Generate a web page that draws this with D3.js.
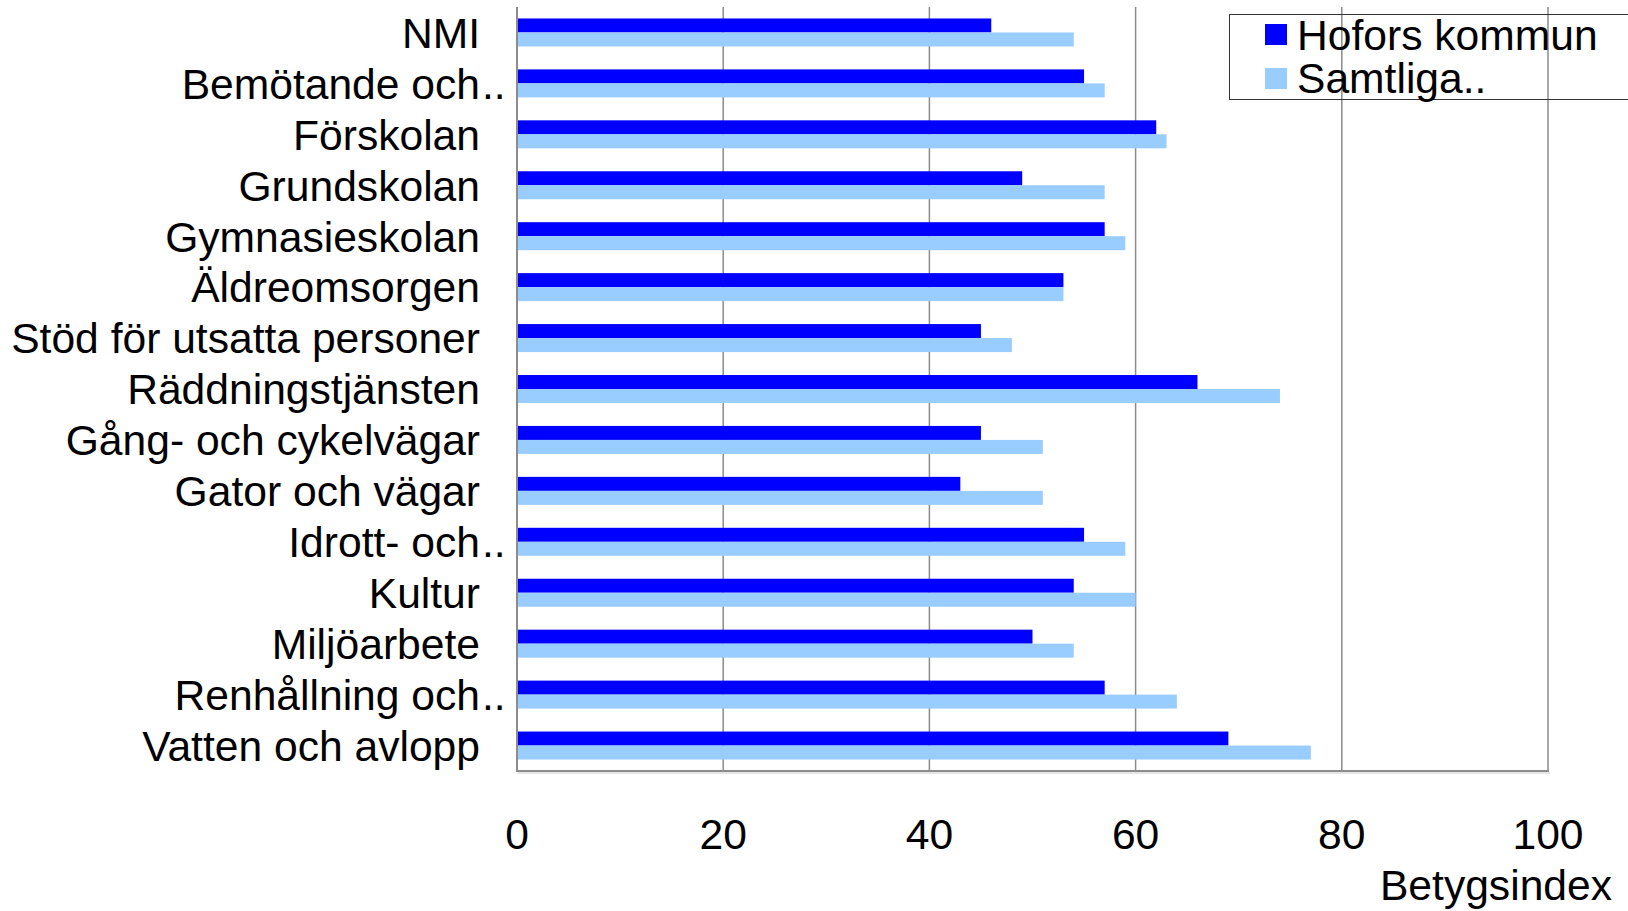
<!DOCTYPE html>
<html>
<head>
<meta charset="utf-8">
<script src="https://cdn.jsdelivr.net/npm/d3@7"></script>
<style>
  html, body { margin: 0; padding: 0; background: #fff; }
  svg { display: block; font-family: Arial, "Liberation Sans", Arimo, sans-serif; }
</style>
</head>
<body>
<svg id="chart" width="1628" height="911"></svg>
<script>
const categories = [
  "NMI", "Bemötande och..", "Förskolan", "Grundskolan", "Gymnasieskolan",
  "Äldreomsorgen", "Stöd för utsatta personer", "Räddningstjänsten",
  "Gång- och cykelvägar", "Gator och vägar", "Idrott- och..", "Kultur",
  "Miljöarbete", "Renhållning och..", "Vatten och avlopp"
];
const seriesNames = ["Hofors kommun", "Samtliga.."];
const hofors   = [46, 55, 62, 49, 57, 53, 45, 66, 45, 43, 55, 54, 50, 57, 69];
const samtliga = [54, 57, 63, 57, 59, 53, 48, 74, 51, 51, 59, 60, 54, 64, 77];
const xTicks = [0, 20, 40, 60, 80, 100];
const axisTitle = "Betygsindex";
const colors = ["#0000FF", "#99CCFF"];

const svg = d3.select("#chart");
const pLeft = 517, pRight = 1548, pTop = 7, pBottom = 771;
const fs = 42.6;

const x = d3.scaleLinear().domain([0, 100]).range([pLeft, pRight]);
const y = d3.scaleBand().domain(categories).range([pTop, pBottom]);
const bw = y.bandwidth();
const barH = 14;
const sub = d3.scaleBand().domain(seriesNames)
  .range([(bw - 2 * barH) / 2, (bw - 2 * barH) / 2 + 2 * barH]);

// gridlines
svg.append("g").selectAll("line").data(xTicks.filter(d => d > 0)).join("line")
  .attr("x1", d => x(d)).attr("x2", d => x(d))
  .attr("y1", pTop).attr("y2", pBottom)
  .attr("stroke", "#8c8c8c").attr("stroke-width", 1.5);

// bars
const data = categories.map((c, i) => ({ c, vals: [hofors[i], samtliga[i]] }));
const g = svg.append("g");
data.forEach(d => {
  seriesNames.forEach((s, j) => {
    g.append("rect")
      .attr("x", x(0))
      .attr("y", y(d.c) + sub(s))
      .attr("width", x(d.vals[j]) - x(0))
      .attr("height", sub.bandwidth())
      .attr("fill", colors[j]);
  });
});

// axis lines
svg.append("line").attr("x1", pLeft).attr("x2", pLeft).attr("y1", pTop).attr("y2", pBottom + 1)
  .attr("stroke", "#8c8c8c").attr("stroke-width", 2);
svg.append("line").attr("x1", pLeft).attr("x2", pRight + 1).attr("y1", pBottom).attr("y2", pBottom)
  .attr("stroke", "#8c8c8c").attr("stroke-width", 2);
svg.append("line").attr("x1", pLeft + 1).attr("x2", pRight + 2).attr("y1", pBottom + 2).attr("y2", pBottom + 2)
  .attr("stroke", "#dddddd").attr("stroke-width", 1.5);

// category labels
const labelX = 480;
const lab = svg.append("g").attr("font-size", fs).attr("fill", "#000");
categories.forEach(c => {
  const trunc = c.endsWith("..");
  const main = trunc ? c.slice(0, -2) : c;
  lab.append("text").attr("x", labelX).attr("y", y(c) + bw / 2).attr("dy", "0.36em")
    .attr("text-anchor", "end").text(main);
  if (trunc) {
    lab.append("text").attr("x", labelX + 2).attr("y", y(c) + bw / 2).attr("dy", "0.36em")
      .attr("text-anchor", "start").text("..");
  }
});

// x tick labels
svg.append("g").attr("font-size", fs).selectAll("text").data(xTicks).join("text")
  .attr("x", d => x(d)).attr("y", 849).attr("text-anchor", "middle").text(d => d);

// axis title
svg.append("text").attr("x", 1612).attr("y", 900).attr("text-anchor", "end")
  .attr("font-size", fs).text(axisTitle);

// legend
const lg = svg.append("g");
lg.append("rect").attr("x", 1229.5).attr("y", 14.5).attr("width", 420).attr("height", 85)
  .attr("fill", "none").attr("stroke", "#333").attr("stroke-width", 1);
seriesNames.forEach((s, j) => {
  const yy = j === 0 ? 24 : 68;
  lg.append("rect").attr("x", 1265).attr("y", yy).attr("width", 22).attr("height", 21).attr("fill", colors[j]);
  lg.append("text").attr("x", 1297).attr("y", j === 0 ? 50 : 93).attr("font-size", fs).text(s);
});
</script>
</body>
</html>
